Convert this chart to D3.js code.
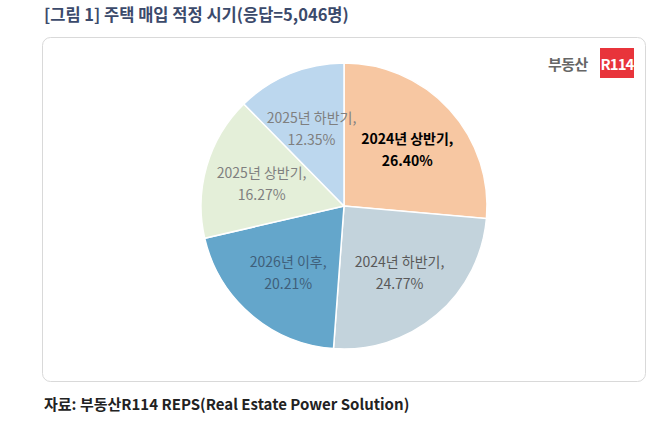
<!DOCTYPE html><html><head><meta charset="utf-8"><script src="https://d3js.org/d3.v7.min.js"></script>
<style>body{margin:0;background:#fff}</style></head><body><svg id="c" width="661" height="439"></svg>
<script>
const categories=["2024년 상반기","2024년 하반기","2026년 이후","2025년 상반기","2025년 하반기"];
const values=[26.40,24.77,20.21,16.27,12.35];
const colors=["#f7c7a2","#c3d3dc","#64a6cb","#e4efd9","#bcd7ee"];
const textColors=["#000","#595959","#3f5f7a","#7f7f7f","#7f7f7f"];
const svg=d3.select("#c");
const F="'Noto Sans CJK KR','Noto Sans',sans-serif";
svg.append("text").attr("x",44).attr("y",21).attr("font-family",F).attr("font-size",16.5).attr("font-weight","bold").attr("fill","#3b4a6b").text("[그림 1] 주택 매입 적정 시기(응답=5,046명)");
svg.append("rect").attr("x",42.5).attr("y",37.5).attr("width",603).attr("height",344).attr("rx",8).attr("fill","#fff").attr("stroke","#d9d9d9");
svg.append("text").attr("x",548).attr("y",70).attr("font-family",F).attr("font-size",15).attr("font-weight","bold").attr("fill","#666").attr("letter-spacing",-0.5).text("부동산");
svg.append("rect").attr("x",600).attr("y",48).attr("width",34).attr("height",30).attr("fill","#e8343b");
svg.append("text").attr("x",617).attr("y",70).attr("text-anchor","middle").attr("font-family",F).attr("font-size",15).attr("font-weight","bold").attr("fill","#fff").attr("letter-spacing",-1).text("R114");
const cx=344,cy=206,r=143;
const pie=d3.pie().sort(null).value(d=>d)(values);
const arc=d3.arc().innerRadius(0).outerRadius(r);
const g=svg.append("g").attr("transform",`translate(${cx},${cy})`);
g.selectAll("path").data(pie).join("path").attr("d",arc).attr("fill",(d,i)=>colors[i]).attr("stroke","#fff").attr("stroke-width",1.5);
const la=d3.arc().innerRadius(r*0.6).outerRadius(r*0.6);
pie.forEach((d,i)=>{const [x,y]=la.centroid(d);
 const t=g.append("text").attr("text-anchor","middle").attr("font-family",F).attr("font-size",14).attr("fill",textColors[i]).attr("font-weight",i==0?"bold":"normal");
 t.append("tspan").attr("x",x).attr("y",y-4).text(categories[i]+",");
 t.append("tspan").attr("x",x).attr("y",y+18).text(values[i].toFixed(2)+"%");});
svg.append("text").attr("x",44).attr("y",410).attr("font-family",F).attr("font-size",15).attr("font-weight","bold").attr("fill","#222").text("자료: 부동산R114 REPS(Real Estate Power Solution)");
</script></body></html>
